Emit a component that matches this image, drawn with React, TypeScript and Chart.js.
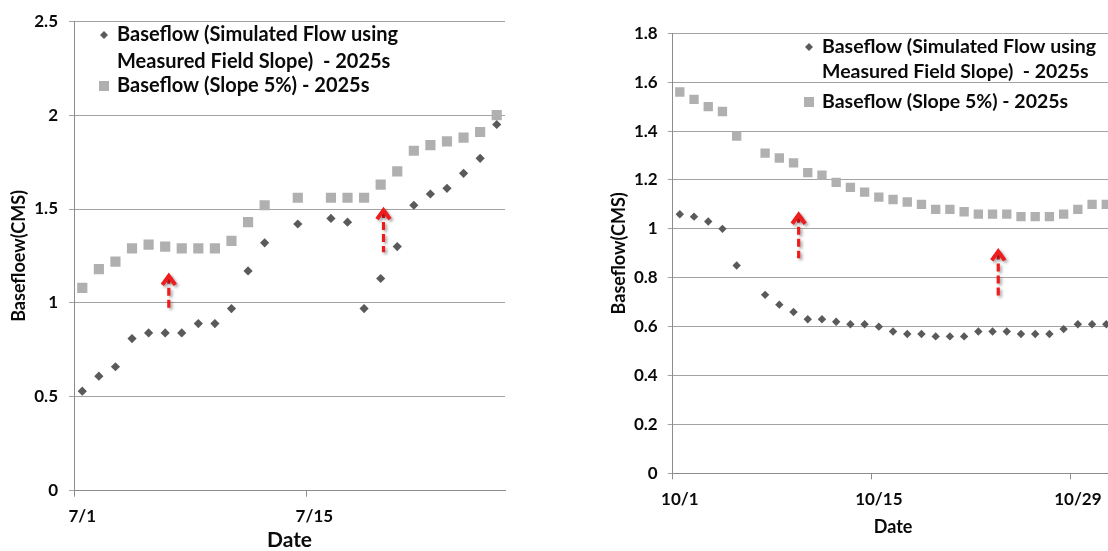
import React, { useEffect, useRef } from 'react';
import { Chart, registerables } from 'chart.js';

Chart.register(...registerables);

// ---------- DATA ----------
const julyDates = ['7/1','7/2','7/3','7/4','7/5','7/6','7/7','7/8','7/9','7/10','7/11','7/12','7/13','7/14','7/15','7/16','7/17','7/18','7/19','7/20','7/21','7/22','7/23','7/24','7/25','7/26'];
const julyMeasured = [0.53,0.61,0.66,0.81,0.84,0.84,0.84,0.89,0.89,0.97,1.17,1.32,null,1.42,null,1.45,1.43,0.97,1.13,1.30,1.52,1.58,1.61,1.69,1.77,1.95];
const julySlope5 = [1.08,1.18,1.22,1.29,1.31,1.30,1.29,1.29,1.29,1.33,1.43,1.52,null,1.56,null,1.56,1.56,1.56,1.63,1.70,1.81,1.84,1.86,1.88,1.91,2.00];
const julyYTicks = { min: 0, max: 2.5, step: 0.5 };
const julyArrows = [
  { x: 5.22, from: 0.97, to: 1.16 },
  { x: 18.17, from: 1.27, to: 1.51 },
];

const octDates = ['10/1','10/2','10/3','10/4','10/5','10/6','10/7','10/8','10/9','10/10','10/11','10/12','10/13','10/14','10/15','10/16','10/17','10/18','10/19','10/20','10/21','10/22','10/23','10/24','10/25','10/26','10/27','10/28','10/29','10/30','10/31'];
const octMeasured = [1.06,1.05,1.03,1.00,0.85,null,0.73,0.69,0.66,0.63,0.63,0.62,0.61,0.61,0.60,0.58,0.57,0.57,0.56,0.56,0.56,0.58,0.58,0.58,0.57,0.57,0.57,0.59,0.61,0.61,0.61];
const octSlope5 = [1.56,1.53,1.50,1.48,1.38,null,1.31,1.29,1.27,1.23,1.22,1.19,1.17,1.15,1.13,1.12,1.11,1.10,1.08,1.08,1.07,1.06,1.06,1.06,1.05,1.05,1.05,1.06,1.08,1.10,1.10];
const octYTicks = { min: 0, max: 1.8, step: 0.2 };
const octArrows = [
  { x: 8.36, from: 0.88, to: 1.07 },
  { x: 22.4, from: 0.72, to: 0.92 },
];

const legendMeasured = ['Baseflow (Simulated Flow using', 'Measured Field Slope)  - 2025s'];
const legendSlope5 = ['Baseflow (Slope 5%) - 2025s'];
const xTitle = 'Date';
const julyYTitle = 'Basefloew(CMS)';
const octYTitle = 'Baseflow(CMS)';

// ---------- STYLE ----------
const FONT = 'Lato, "Open Sans", sans-serif';
const DIAMOND = '#5a5a5a';
const SQUARE = '#b0b0b0';
const GRID = '#a3a3a3';
const AXIS = '#8c8c8c';
const ARROW = '#ee1c1c';
const TEXT = '#0a0a0a';

const arrowPlugin = {
  id: 'arrows',
  afterDatasetsDraw(chart: any, _args: any, opts: any) {
    const { ctx, scales } = chart;
    const list = opts.items || [];
    ctx.save();
    ctx.shadowColor = 'rgba(0,0,0,0.35)';
    ctx.shadowBlur = 3;
    ctx.shadowOffsetX = 2;
    ctx.shadowOffsetY = 2;
    ctx.strokeStyle = ARROW;
    for (const a of list) {
      const x = scales.x.getPixelForValue(a.x);
      const yTip = scales.y.getPixelForValue(a.to);
      const yBot = scales.y.getPixelForValue(a.from);
      // shaft
      ctx.lineWidth = 3.2;
      ctx.setLineDash([8, 4]);
      ctx.beginPath();
      ctx.moveTo(x, yTip + 3);
      ctx.lineTo(x, yBot);
      ctx.stroke();
      // head
      ctx.setLineDash([]);
      ctx.lineWidth = 4;
      ctx.lineJoin = 'miter';
      ctx.lineCap = 'butt';
      ctx.beginPath();
      ctx.moveTo(x - 6.5, yTip + 12);
      ctx.lineTo(x, yTip + 3);
      ctx.lineTo(x + 6.5, yTip + 12);
      ctx.stroke();
    }
    ctx.restore();
  },
};

const legendPlugin = {
  id: 'sideLegend',
  afterDraw(chart: any, _args: any, o: any) {
    const { ctx } = chart;
    ctx.save();
    ctx.font = o.font;
    ctx.textBaseline = 'middle';
    ctx.textAlign = 'left';
    // diamond marker
    ctx.fillStyle = DIAMOND;
    ctx.beginPath();
    ctx.moveTo(o.markerX, o.ys[0] - o.diamondR);
    ctx.lineTo(o.markerX + o.diamondR, o.ys[0]);
    ctx.lineTo(o.markerX, o.ys[0] + o.diamondR);
    ctx.lineTo(o.markerX - o.diamondR, o.ys[0]);
    ctx.closePath();
    ctx.fill();
    // square marker
    ctx.fillStyle = SQUARE;
    ctx.fillRect(o.markerX - o.squareHalf, o.ys[2] - o.squareHalf, o.squareHalf * 2, o.squareHalf * 2);
    ctx.fillStyle = TEXT;
    const lines = [...legendMeasured, ...legendSlope5];
    lines.forEach((t, i) => ctx.fillText(t, o.textX, o.ys[i]));
    ctx.restore();
  },
};

function makeConfig(p: any) {
  const fmt = (v: any) => String(Number(Number(v).toFixed(2)));
  return {
    type: 'line',
    data: {
      labels: p.labels,
      datasets: [
        {
          label: legendMeasured.join(' '),
          data: p.measured,
          showLine: false,
          pointStyle: 'rectRot',
          pointRadius: p.diamondR,
          pointHoverRadius: p.diamondR,
          backgroundColor: DIAMOND,
          borderColor: DIAMOND,
          borderWidth: 0,
        },
        {
          label: legendSlope5.join(' '),
          data: p.slope5,
          showLine: false,
          pointStyle: 'rect',
          pointRadius: p.squareR,
          pointHoverRadius: p.squareR,
          backgroundColor: SQUARE,
          borderColor: SQUARE,
          borderWidth: 0,
        },
      ],
    },
    options: {
      animation: false,
      responsive: false,
      maintainAspectRatio: false,
      events: [],
      layout: { padding: p.padding },
      plugins: {
        legend: { display: false },
        tooltip: { enabled: false },
        arrows: { items: p.arrows },
        sideLegend: p.legend,
      },
      scales: {
        x: {
          type: 'category',
          offset: true,
          grid: {
            offset: true,
            drawOnChartArea: false,
            drawTicks: true,
            tickLength: 6,
            lineWidth: 1,
            color: (c: any) => (c.index % 14 === 0 ? AXIS : 'rgba(0,0,0,0)'),
          },
          border: { display: true, color: AXIS, width: 1 },
          ticks: {
            autoSkip: false,
            maxRotation: 0,
            minRotation: 0,
            padding: p.xTickPad,
            color: TEXT,
            font: { family: FONT, size: 17, weight: 'bold' },
            callback: (_v: any, i: number) => (i % 14 === 0 ? p.labels[i] : ''),
          },
          title: {
            display: true,
            text: xTitle,
            color: TEXT,
            font: { family: FONT, size: p.xTitleSize, weight: 'bold', lineHeight: 1 },
            padding: { top: 0, bottom: p.xTitlePad },
          },
          afterFit: (s: any) => {
            s.height = p.xHeight;
          },
        },
        y: {
          min: p.yTicks.min,
          max: p.yTicks.max,
          ticks: {
            stepSize: p.yTicks.step,
            padding: p.yTickPad,
            color: TEXT,
            font: { family: FONT, size: 17, weight: 'bold' },
            callback: fmt,
          },
          grid: { color: GRID, lineWidth: 1, drawTicks: true, tickLength: 5 },
          border: { display: true, color: AXIS, width: 1 },
          title: {
            display: true,
            text: p.yTitle,
            color: TEXT,
            font: { family: FONT, size: 18, weight: 'bold', lineHeight: 1 },
            padding: { top: p.yTitlePad, bottom: 0 },
          },
          afterFit: (s: any) => {
            s.width = p.yWidth;
          },
        },
      },
    },
    plugins: [arrowPlugin, legendPlugin],
  };
}

function ChartBox({ config, left, width, height }: any) {
  const ref = useRef<HTMLCanvasElement | null>(null);
  useEffect(() => {
    if (!ref.current) return;
    const chart = new Chart(ref.current, config);
    return () => chart.destroy();
  }, [config]);
  return (
    <div style={{ position: 'absolute', left, top: 0, width, height }}>
      <canvas ref={ref} width={width} height={height} style={{ width, height, display: 'block' }} />
    </div>
  );
}

const julyConfig = makeConfig({
  labels: julyDates,
  measured: julyMeasured,
  slope5: julySlope5,
  yTicks: julyYTicks,
  arrows: julyArrows,
  yTitle: julyYTitle,
  diamondR: 4.6,
  squareR: 7.2,
  padding: { left: 0, top: 18.5, right: 15, bottom: 0 },
  yWidth: 74,
  xHeight: 60.3,
  xTickPad: 10,
  yTickPad: 11,
  xTitleSize: 21,
  xTitlePad: 0,
  yTitlePad: 10,
  legend: {
    font: `bold 20px ${FONT}`,
    markerX: 104,
    textX: 117,
    ys: [35, 62, 86],
    diamondR: 4,
    squareHalf: 5,
  },
});

const octConfig = makeConfig({
  labels: octDates,
  measured: octMeasured,
  slope5: octSlope5,
  yTicks: octYTicks,
  arrows: octArrows,
  yTitle: octYTitle,
  diamondR: 4.2,
  squareR: 6.6,
  padding: { left: 0, top: 33.3, right: 5.5, bottom: 0 },
  yWidth: 112.7,
  xHeight: 77.7,
  xTickPad: 10,
  yTickPad: 10,
  xTitleSize: 18,
  xTitlePad: 15,
  yTitlePad: 50,
  legend: {
    font: `bold 19.5px ${FONT}`,
    markerX: 809 - 560,
    textX: 822 - 560,
    ys: [47, 72, 102],
    diamondR: 4,
    squareHalf: 5,
  },
});

export default function App() {
  return (
    <div
      style={{
        position: 'fixed',
        left: 0,
        top: 0,
        width: 1108,
        height: 551,
        overflow: 'hidden',
        background: '#fff',
      }}
    >
      <ChartBox config={julyConfig} left={0} width={520} height={551} />
      <ChartBox config={octConfig} left={560} width={560} height={551} />
    </div>
  );
}
